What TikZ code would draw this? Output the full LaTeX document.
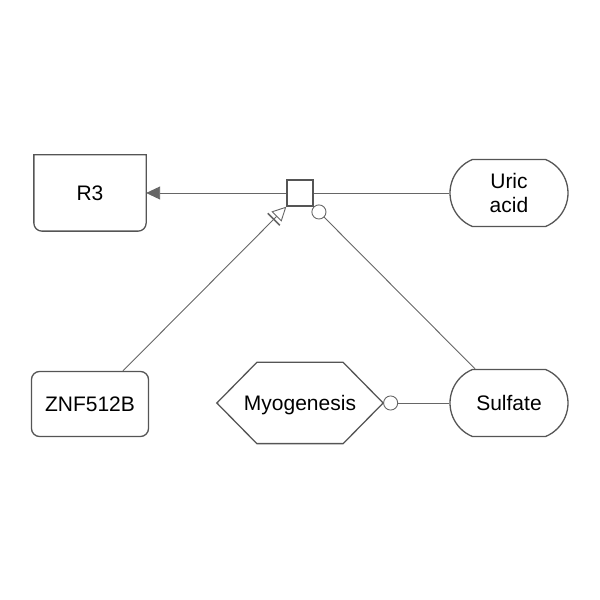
\documentclass[tikz,border=0pt]{standalone}
\usepackage{fontspec}
\setmainfont{Liberation Sans}
\usetikzlibrary{arrows.meta,shapes.misc}

\definecolor{edgegray}{HTML}{555555}
\definecolor{arcgray}{HTML}{666666}

\tikzset{
	ent/.style={draw=edgegray, line width=1.3pt, fill=white, inner sep=0pt,
		font=\fontsize{21}{24}\selectfont, text depth=0pt, align=center},
	chem/.style={ent, rounded rectangle, rounded rectangle arc length=135,
		minimum width=118pt, minimum height=67pt},
	arc/.style={draw=arcgray, line width=0.9pt},
	produce/.style={arc, -{Triangle[length=14pt,width=13pt]}},
	catalyse/.style={arc, -{Circle[open,length=15pt,width=15pt]}},
	needstim/.style={arc, -{Bar[width=17pt,line width=1.6pt,sep=3pt]Triangle[open,length=14pt,width=14pt]}}
}

\begin{document}
\begin{tikzpicture}[x=1pt,y=1pt]
	\useasboundingbox (0,0) rectangle (600,600);
	% entities
	\node[ent, draw=none, fill=none, minimum width=111pt, minimum height=75pt] (r3) at (90,407) {R3};
	\draw[ent, fill=none] (r3.north west) -- (r3.north east) -- ([yshift=8pt]r3.south east)
		arc[start angle=0, end angle=-90, radius=8pt] -- ([xshift=8pt]r3.south west)
		arc[start angle=270, end angle=180, radius=8pt] -- cycle;
	\node[ent, rounded corners=8pt, minimum width=117pt, minimum height=65pt] (znf) at (90,196) {ZNF512B};
	\node[chem] (uric) at (509,407) {Uric\\acid};
	\node[chem] (sulf) at (509,197) {Sulfate};
	\node[ent, draw=none, fill=none, minimum width=165pt, minimum height=80pt] (myo) at (300,197) {Myogenesis};
	\draw[ent, fill=none] (myo.west) -- ([xshift=40pt]myo.north west) -- ([xshift=-40pt]myo.north east)
		-- (myo.east) -- ([xshift=-40pt]myo.south east) -- ([xshift=40pt]myo.south west) -- cycle;
	% process
	\node[draw=edgegray, line width=1.3pt, minimum size=26pt, inner sep=0pt] (proc) at (300,407) {};
	% arcs
	\draw[arc] (uric.west) -- (proc.east);
	\draw[produce] (proc.west) -- (r3.east);
	\draw[needstim] (znf) -- (proc.south west);
	\draw[catalyse] (sulf) -- (proc.south east);
	\draw[catalyse] (sulf.west) -- (myo.east);
\end{tikzpicture}
\end{document}
